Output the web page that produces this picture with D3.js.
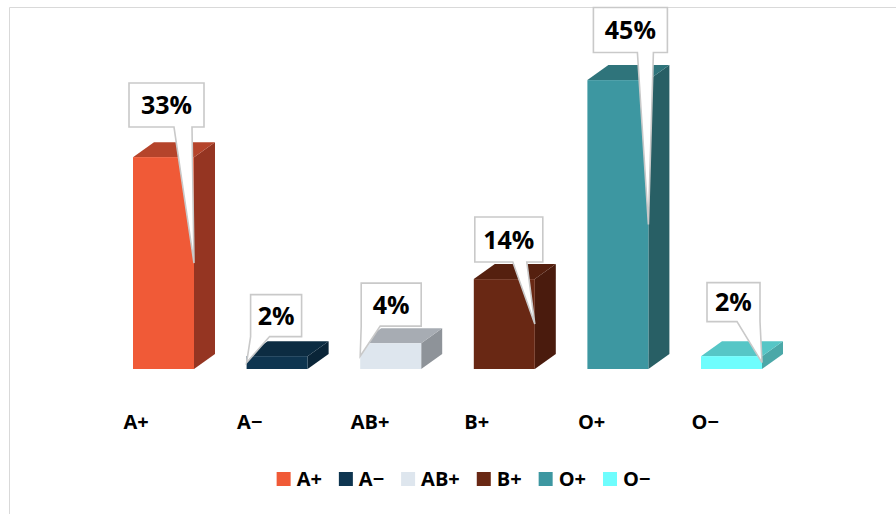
<!DOCTYPE html>
<html>
<head>
<meta charset="utf-8">
<script src="https://cdn.jsdelivr.net/npm/d3@7/dist/d3.min.js"></script>
<style>
  html, body { margin: 0; padding: 0; background: #fff; }
  svg { display: block; font-family: "Open Sans", "Noto Sans", sans-serif; }
</style>
</head>
<body>
<svg id="chart" width="896" height="514"></svg>
<script>
// Blood group distribution (percent)
const groups = ["A+", "A\u2212", "AB+", "B+", "O+", "O\u2212"];
const shares = [33, 2, 4, 14, 45, 2];
const labels = ["33%", "2%", "4%", "14%", "45%", "2%"];

// Face colours of each 3D column: front, top, side
const frontColors = ["#F05A37", "#0E3550", "#DEE6EE", "#692814", "#3D97A1", "#6EFDFD"];
const topColors   = ["#B5442B", "#0C2C42", "#A7ACB3", "#55200F", "#2F747B", "#56C6C6"];
const sideColors  = ["#953522", "#0A2538", "#8E9399", "#4A1B0D", "#285F65", "#4BA8A8"];

// Callout layout: which edge the pointer meets, box offset from the tip,
// box size, and pointer base span measured from the box's left side
const callouts = [
  { edge: "right", dx: -65, dy: -180, w: 75, h: 44, b0: 45, b1: 63 },
  { edge: "left",  dx: 4,   dy: -68,  w: 51, h: 42, b0: 0,  b1: 19 },
  { edge: "left",  dx: 1,   dy: -73,  w: 60, h: 43, b0: 0,  b1: 19 },
  { edge: "right", dx: -60, dy: -107, w: 68, h: 45, b0: 38, b1: 52 },
  { edge: "right", dx: -55, dy: -217, w: 74, h: 45, b0: 44, b1: 60 },
  { edge: "right", dx: -55, dy: -80,  w: 53, h: 39, b0: 30, b1: 53 }
];

const svg = d3.select("#chart");
const W = 896, H = 514;

// chart frame (left and top edges visible)
svg.append("path")
  .attr("d", `M9.5,${H} L9.5,7.5 L${W},7.5`)
  .attr("fill", "none")
  .attr("stroke", "#d9d9d9")
  .attr("stroke-width", 1);

const x = d3.scaleBand().domain(groups).range([106.7, 788.3]).padding(0);
const y = d3.scaleLinear().domain([0, 50]).range([369, 48]);

const barW = 61;
const depthX = 21, depthY = -15;
const barLeft = g => x(g) + (x.bandwidth() - barW) / 2;

const data = groups.map((g, i) => ({
  group: g, value: shares[i], label: labels[i],
  front: frontColors[i], top: topColors[i], side: sideColors[i], co: callouts[i]
}));

// 3D columns
const bars = svg.append("g").selectAll("g").data(data).join("g");

bars.append("path") // side face
  .attr("fill", d => d.side)
  .attr("d", d => {
    const x1 = barLeft(d.group) + barW, y0 = y(0), y1 = y(d.value);
    return `M${x1},${y0} L${x1},${y1} L${x1 + depthX},${y1 + depthY} L${x1 + depthX},${y0 + depthY} Z`;
  });

bars.append("path") // top face
  .attr("fill", d => d.top)
  .attr("d", d => {
    const x0 = barLeft(d.group), x1 = x0 + barW, y1 = y(d.value);
    return `M${x0},${y1} L${x1},${y1} L${x1 + depthX},${y1 + depthY} L${x0 + depthX},${y1 + depthY} Z`;
  });

bars.append("rect") // front face
  .attr("fill", d => d.front)
  .attr("x", d => barLeft(d.group))
  .attr("y", d => y(d.value))
  .attr("width", barW)
  .attr("height", d => y(0) - y(d.value));

// category axis
const axis = d3.axisBottom(x).tickSize(0).tickPadding(0);
const axG = svg.append("g").attr("transform", "translate(0,422)").call(axis);
axG.select(".domain").remove();
axG.selectAll("text")
  .attr("text-anchor", "start")
  .attr("x", -(x.bandwidth() / 2 - (x.bandwidth() - barW) / 2) - 9.5)
  .attr("dy", "0.36em")
  .attr("fill", "#000")
  .style("font-family", "'Open Sans', sans-serif")
  .style("font-size", "20px")
  .style("font-weight", 700);

// callouts
const calloutG = svg.append("g").selectAll("g").data(data).join("g");

calloutG.each(function (d) {
  const c = d.co;
  const tipX = c.edge === "right" ? barLeft(d.group) + barW : barLeft(d.group);
  const tipY = (y(0) + y(d.value)) / 2;
  const bx = tipX + c.dx, by = tipY + c.dy;
  const g = d3.select(this);
  const p = d3.path();
  p.moveTo(bx, by);
  p.lineTo(bx + c.w, by);
  p.lineTo(bx + c.w, by + c.h);
  p.lineTo(bx + c.b1, by + c.h);
  p.lineTo(tipX, tipY);
  p.lineTo(bx + c.b0, by + c.h);
  p.lineTo(bx, by + c.h);
  p.closePath();
  g.append("path")
    .attr("d", p.toString())
    .attr("fill", "#fff")
    .attr("stroke", "#c9c9c9")
    .attr("stroke-width", 1.6)
    .attr("stroke-linejoin", "miter");
  g.append("text")
    .attr("x", bx + c.w / 2)
    .attr("y", by + c.h / 2)
    .attr("dy", "0.36em")
    .attr("text-anchor", "middle")
    .attr("fill", "#000")
    .style("font-size", "25px")
    .style("font-weight", 700)
    .text(d.label);
});

// legend
const legend = svg.append("g");
const items = legend.selectAll("g").data(data).join("g");
items.append("rect")
  .attr("width", 14).attr("height", 14)
  .attr("y", -7)
  .attr("fill", d => d.front);
items.append("text")
  .attr("x", 20)
  .attr("dy", "0.36em")
  .attr("fill", "#000")
  .style("font-size", "20px")
  .style("font-weight", 700)
  .text(d => d.group);

let cursor = 0;
items.each(function () {
  const t = d3.select(this).select("text").node().getComputedTextLength();
  d3.select(this).attr("transform", `translate(${cursor},0)`);
  cursor += 20 + t + 17;
});
const legendW = cursor - 17;
legend.attr("transform", `translate(${463.5 - legendW / 2},479)`);
</script>
</body>
</html>
